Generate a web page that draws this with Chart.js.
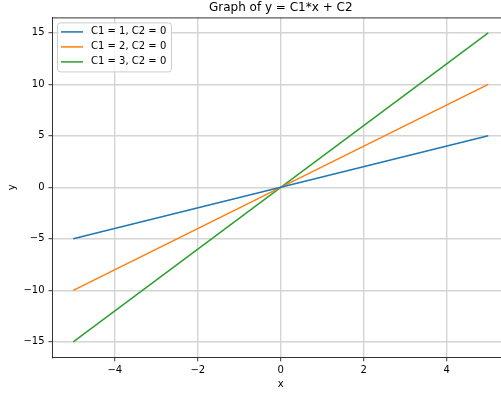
<!DOCTYPE html>
<html>
<head>
<meta charset="utf-8">
<script src="https://cdn.jsdelivr.net/npm/chart.js@4/dist/chart.umd.min.js"></script>
<style>
  html, body { margin: 0; padding: 0; background: #fff; overflow: hidden; }
  #wrap { width: 530px; height: 394px; }
</style>
</head>
<body>
<div id="wrap"><canvas id="lines"></canvas></div>
<script>
// y = C1*x + C2 for three slopes
const xValues = [-5, 0, 5];
const lineA = [-5, 0, 5];
const lineB = [-10, 0, 10];
const lineC = [-15, 0, 15];
const seriesNames = ['C1 = 1, C2 = 0', 'C1 = 2, C2 = 0', 'C1 = 3, C2 = 0'];
const seriesColors = ['#1f77b4', '#ff7f0e', '#2ca02c'];

Chart.defaults.font.family = 'DejaVu Sans';
Chart.defaults.color = '#000';

const minus = v => String(v).replace('-', '\u2212');

function toPoints(ys) {
  return xValues.map((x, i) => ({ x: x, y: ys[i] }));
}

// top/right spines
const frame = {
  id: 'frame',
  afterDraw(chart) {
    const { ctx, chartArea: a } = chart;
    ctx.save();
    ctx.strokeStyle = '#333';
    ctx.lineWidth = 1;
    ctx.beginPath();
    ctx.moveTo(a.left, a.top + 0.5);
    ctx.lineTo(a.right, a.top + 0.5);
    ctx.lineTo(a.right, a.bottom);
    ctx.stroke();
    ctx.restore();
  }
};

// legend box in the upper-left corner of the plot
const cornerLegend = {
  id: 'cornerLegend',
  afterDatasetsDraw(chart) {
    const { ctx, chartArea: a } = chart;
    const x0 = a.left + 5, y0 = a.top + 5.5, w = 114, h = 49, r = 3;
    ctx.save();
    ctx.fillStyle = 'rgba(255,255,255,0.8)';
    ctx.strokeStyle = '#cccccc';
    ctx.lineWidth = 1;
    ctx.beginPath();
    ctx.roundRect(x0, y0, w, h, r);
    ctx.fill();
    ctx.stroke();
    ctx.font = '10px "DejaVu Sans"';
    ctx.textBaseline = 'middle';
    chart.data.datasets.forEach((ds, i) => {
      const cy = y0 + 9 + i * 15;
      ctx.strokeStyle = ds.borderColor;
      ctx.lineWidth = 1.5;
      ctx.beginPath();
      ctx.moveTo(x0 + 3.5, cy);
      ctx.lineTo(x0 + 25.5, cy);
      ctx.stroke();
      ctx.fillStyle = '#000';
      ctx.fillText(ds.label, x0 + 33.5, cy);
    });
    ctx.restore();
  }
};

const gridStyle = {
  color: '#d4d4d4',
  lineWidth: 1.4,
  tickColor: '#333',
  tickWidth: 1,
  tickLength: 4
};

new Chart(document.getElementById('lines'), {
  type: 'line',
  data: {
    datasets: [lineA, lineB, lineC].map((ys, i) => ({
      label: seriesNames[i],
      data: toPoints(ys),
      borderColor: seriesColors[i],
      backgroundColor: seriesColors[i],
      borderWidth: 1.5,
      pointRadius: 0,
      tension: 0
    }))
  },
  options: {
    responsive: true,
    maintainAspectRatio: false,
    animation: false,
    layout: { padding: { left: 0, right: 21, top: 0, bottom: 0 } },
    plugins: {
      legend: { display: false },
      tooltip: { enabled: false },
      title: {
        display: true,
        text: 'Graph of y = C1*x + C2',
        fullSize: false,
        color: '#000',
        font: { size: 12, weight: 'normal' },
        padding: { top: 1, bottom: 2 }
      }
    },
    scales: {
      x: {
        type: 'linear',
        min: -5.5,
        max: 5.5,
        grid: gridStyle,
        border: { color: '#333', width: 1 },
        ticks: {
          stepSize: 2,
          includeBounds: false,
          padding: 3,
          maxRotation: 0,
          font: { size: 10 },
          callback: v => minus(v)
        },
        title: { display: true, text: 'x', font: { size: 10 }, padding: { top: 0, bottom: 4 } },
        afterFit(s) { s.height = 36.7; }
      },
      y: {
        type: 'linear',
        min: -16.5,
        max: 16.5,
        grid: gridStyle,
        border: { color: '#333', width: 1 },
        ticks: {
          stepSize: 5,
          includeBounds: false,
          padding: 4,
          font: { size: 10 },
          callback: v => minus(v)
        },
        title: { display: true, text: 'y', font: { size: 10 }, padding: { top: 6, bottom: 0 } },
        afterFit(s) { s.width = 52.5; }
      }
    }
  },
  plugins: [frame, cornerLegend]
});
</script>
</body>
</html>
